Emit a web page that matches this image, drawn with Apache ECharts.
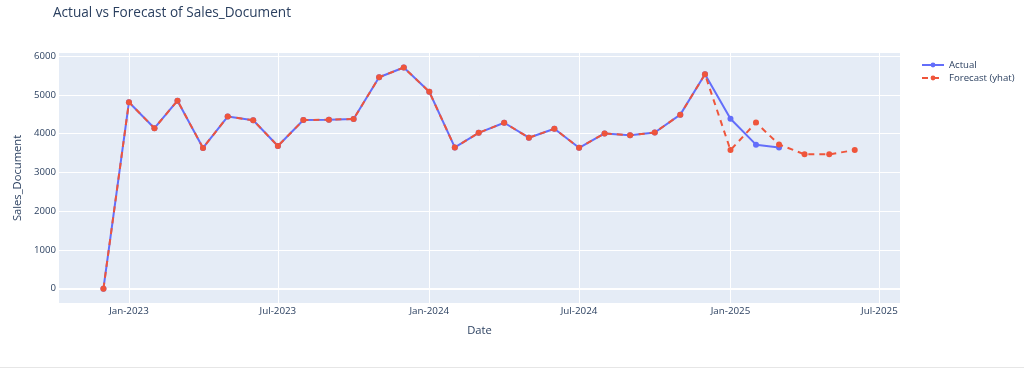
<!DOCTYPE html>
<html>
<head>
<meta charset="utf-8">
<script src="https://cdn.jsdelivr.net/npm/echarts@6/dist/echarts.min.js"></script>
<style>
html,body{margin:0;padding:0;background:#fff;}
#c{width:1024px;height:370px;}
</style>
</head>
<body>
<div id="c"></div>
<script>
// Monthly dates (month start)
const dates = [
  '2022-12-01','2023-01-01','2023-02-01','2023-03-01','2023-04-01','2023-05-01','2023-06-01',
  '2023-07-01','2023-08-01','2023-09-01','2023-10-01','2023-11-01','2023-12-01',
  '2024-01-01','2024-02-01','2024-03-01','2024-04-01','2024-05-01','2024-06-01',
  '2024-07-01','2024-08-01','2024-09-01','2024-10-01','2024-11-01','2024-12-01',
  '2025-01-01','2025-02-01','2025-03-01','2025-04-01','2025-05-01','2025-06-01'
];
const actualValues = [
  0,4810,4140,4850,3630,4440,4345,3680,4350,4360,4375,5455,5705,
  5080,3645,4020,4280,3895,4125,3635,4005,3955,4030,4490,5530,
  4385,3715,3640
];
const forecastValues = [
  0,4810,4140,4850,3630,4440,4345,3680,4350,4360,4375,5455,5705,
  5080,3645,4020,4280,3895,4125,3635,4005,3955,4030,4490,5530,
  3575,4285,3720,3465,3465,3575
];
const xTickDates = ['2023-01-01','2023-07-01','2024-01-01','2024-07-01','2025-01-01','2025-07-01'];
const xTickLabels = ['Jan-2023','Jul-2023','Jan-2024','Jul-2024','Jan-2025','Jul-2025'];
const yTicks = [0,1000,2000,3000,4000,5000,6000];

const ts = d => Date.parse(d + 'T00:00:00Z');
const xTickTs = xTickDates.map(ts);
const labelMap = {};
xTickTs.forEach((t, i) => { labelMap[t] = xTickLabels[i]; });

const font = '"Open Sans", "Noto Sans", sans-serif';
const txt = '#2a3f5f';

const chart = echarts.init(document.getElementById('c'));
chart.setOption({
  animation: false,
  backgroundColor: '#fff',
  title: {
    text: 'Actual vs Forecast of Sales_Document',
    left: 53, top: 6, padding: 0,
    textStyle: { fontFamily: font, fontSize: 13.6, fontWeight: 'normal', color: txt }
  },
  legend: {
    orient: 'vertical',
    left: 916, top: 55,
    itemWidth: 22, itemHeight: 6, itemGap: 3,
    textStyle: { fontFamily: font, fontSize: 9.6, color: txt },
    data: ['Actual', 'Forecast (yhat)']
  },
  grid: { left: 59, right: 124, top: 53, bottom: 67, backgroundColor: '#E5ECF6', show: true, borderWidth: 0, outerBoundsMode: 'none', containLabel: false },
  xAxis: {
    type: 'value',
    min: ts('2022-10-08'), max: ts('2025-07-26'),
    name: 'Date', nameLocation: 'middle', nameGap: 22,
    nameTextStyle: { fontFamily: font, fontSize: 11.2, color: txt },
    axisLine: { show: false },
    axisTick: { show: false, customValues: xTickTs },
    axisLabel: {
      customValues: xTickTs,
      fontFamily: font, fontSize: 9.8, color: txt, margin: 3,
      formatter: v => labelMap[v] || ''
    },
    splitLine: { show: true, lineStyle: { color: '#fff', width: 1 } }
  },
  yAxis: {
    type: 'value',
    min: -370, max: 6080,
    name: 'Sales_Document', nameLocation: 'middle', nameGap: 36,
    nameTextStyle: { fontFamily: font, fontSize: 11.2, color: txt },
    axisLine: { show: false },
    axisTick: { show: false, customValues: yTicks },
    axisLabel: { customValues: yTicks, fontFamily: font, fontSize: 9.6, color: txt, margin: 3, formatter: v => String(v) },
    splitLine: { show: true, lineStyle: { color: '#fff', width: 1 } }
  },
  series: [
    {
      name: 'zeroline', type: 'line', data: [],
      markLine: {
        silent: true, symbol: 'none', label: { show: false }, z: 1,
        lineStyle: { color: '#fff', width: 2, type: 'solid' },
        data: [{ yAxis: 0 }]
      },
      z: 1
    },
    {
      name: 'Actual', type: 'line',
      data: actualValues.map((v, i) => [ts(dates[i]), v]),
      symbol: 'circle', symbolSize: 6, showAllSymbol: true,
      itemStyle: { color: '#636efa' },
      lineStyle: { color: '#636efa', width: 2 },
      z: 2
    },
    {
      name: 'Forecast (yhat)', type: 'line',
      data: forecastValues.map((v, i) => [ts(dates[i]), v]),
      symbol: 'circle', symbolSize: 6, showAllSymbol: true,
      itemStyle: { color: '#EF553B' },
      lineStyle: { color: '#EF553B', width: 2, type: [6, 5] },
      z: 3
    }
  ],
  graphic: [{
    type: 'rect', shape: { x: 0, y: 367, width: 1024, height: 1 },
    style: { fill: '#e6e6e6' }, silent: true
  }]
});
</script>
</body>
</html>
